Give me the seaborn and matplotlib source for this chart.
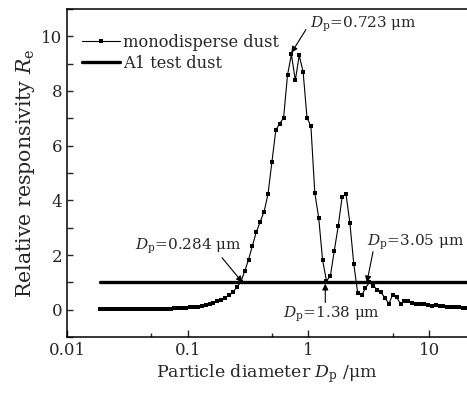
import matplotlib
matplotlib.use("Agg")
import matplotlib.pyplot as plt
import pandas as pd
import seaborn as sns
from matplotlib.ticker import FixedLocator, MultipleLocator, NullFormatter, FixedFormatter

# Particle diameter channels (um) and relative responsivity of the sensor
diameter_um = [
    0.01890, 0.02036, 0.02193, 0.02362, 0.02545, 0.02741, 0.02953, 0.03181, 0.03426, 0.03691,
    0.03976, 0.04283, 0.04613, 0.04969, 0.05353, 0.05766, 0.06212, 0.06691, 0.07208, 0.07764,
    0.08364, 0.09010, 0.09705, 0.1045, 0.1126, 0.1213, 0.1307, 0.1408, 0.1516, 0.1634,
    0.1760, 0.1895, 0.2042, 0.2199, 0.2369, 0.2552, 0.2749, 0.2962, 0.3190, 0.3437,
    0.3702, 0.3988, 0.4295, 0.4627, 0.4984, 0.5369, 0.5784, 0.6230, 0.6711, 0.7229,
    0.7788, 0.8389, 0.9036, 0.9734, 1.049, 1.130, 1.217, 1.311, 1.412, 1.521,
    1.639, 1.765, 1.901, 2.048, 2.206, 2.376, 2.560, 2.758, 2.971, 3.200,
    3.447, 3.713, 3.999, 4.308, 4.641, 4.999, 5.385, 5.801, 6.249, 6.731,
    7.251, 7.811, 8.414, 9.064, 9.764, 10.52, 11.33, 12.20, 13.15, 14.16,
    15.25, 16.43, 17.70, 19.07, 20.54,
]
responsivity = [
    0.02, 0.02, 0.02, 0.02, 0.02, 0.02, 0.02, 0.02, 0.02, 0.02,
    0.02, 0.02, 0.02, 0.03, 0.03, 0.03, 0.03, 0.04, 0.04, 0.05,
    0.05, 0.06, 0.07, 0.08, 0.09, 0.11, 0.13, 0.16, 0.20, 0.25,
    0.30, 0.36, 0.44, 0.53, 0.63, 0.83, 1.00, 1.40, 1.83, 2.34,
    2.84, 3.22, 3.59, 4.23, 5.40, 6.57, 6.81, 7.02, 8.58, 9.34,
    8.39, 9.30, 8.71, 7.02, 6.71, 4.27, 3.36, 1.81, 1.05, 1.24,
    2.16, 3.05, 4.12, 4.23, 3.17, 1.67, 0.62, 0.52, 0.79, 1.00,
    0.88, 0.73, 0.63, 0.43, 0.22, 0.55, 0.45, 0.21, 0.30, 0.33,
    0.25, 0.21, 0.21, 0.20, 0.16, 0.15, 0.16, 0.15, 0.12, 0.11,
    0.10, 0.09, 0.08, 0.07, 0.06,
]
a1_responsivity = 1.0

# Marked diameters: (label value, responsivity at arrow head)
marked_dp = [0.723, 0.284, 3.05, 1.38]
marked_head_y = [9.40, 1.00, 1.00, 0.95]
marked_tail = [(0.955, 10.25), (0.1924, 1.90), (3.43, 2.12), (1.38, 0.26)]
marked_text_pos = [(1.03, 10.43), (0.0366, 2.30), (3.06, 2.45), (0.616, -0.18)]

x_ticks = [0.01, 0.1, 1, 10]
x_tick_labels = ["0.01", "0.1", "1", "10"]
x_minor_ticks = [0.05, 0.5, 5]

sns.set_theme(style="ticks")
plt.rcParams["font.family"] = ["DejaVu Serif"]
plt.rcParams["mathtext.fontset"] = "dejavuserif"

fig = plt.figure(figsize=(4.67, 3.93), dpi=100)
ax = fig.add_axes([67 / 467, 1 - 337 / 393, 400 / 467, 328 / 393])

mono = pd.DataFrame({"d": diameter_um, "r": responsivity})
sns.lineplot(data=mono, x="d", y="r", ax=ax, color="black", lw=0.8,
             marker="s", markersize=2.8, markeredgewidth=0,
             estimator=None, sort=False, label="monodisperse dust")

a1 = pd.DataFrame({"d": [diameter_um[0], diameter_um[-1]],
                   "r": [a1_responsivity, a1_responsivity]})
sns.lineplot(data=a1, x="d", y="r", ax=ax, color="black", lw=2.4,
             estimator=None, sort=False, label="A1 test dust")

ax.set_xscale("log")
ax.set_xlim(0.01, 20.6)
ax.set_ylim(-1, 11)

ax.xaxis.set_major_locator(FixedLocator(x_ticks))
ax.xaxis.set_major_formatter(FixedFormatter(x_tick_labels))
ax.xaxis.set_minor_locator(FixedLocator(x_minor_ticks))
ax.xaxis.set_minor_formatter(NullFormatter())
ax.yaxis.set_major_locator(MultipleLocator(2))
ax.yaxis.set_minor_locator(MultipleLocator(1))

ax.tick_params(axis="both", which="both", direction="in", labelsize=12,
               width=1.0, top=False, right=False)
ax.tick_params(axis="x", which="major", length=5)
ax.tick_params(axis="x", which="minor", length=3)
ax.tick_params(axis="y", which="both", length=4)

for side in ["left", "bottom", "top"]:
    ax.spines[side].set_linewidth(1.1)
    ax.spines[side].set_color("black")
ax.spines["right"].set_visible(False)

ax.set_xlabel(r"Particle diameter $D_{\rm p}$ /μm", fontsize=12.5, labelpad=2)
ax.set_ylabel(r"Relative responsivity $R_{\rm e}$", fontsize=14.8, labelpad=3)

for dp, hy, tail, tpos in zip(marked_dp, marked_head_y, marked_tail, marked_text_pos):
    ax.annotate("", xy=(dp, hy), xytext=tail,
                arrowprops=dict(arrowstyle="-|>", color="black", lw=0.8,
                                mutation_scale=9, shrinkA=0, shrinkB=0))
    ax.text(tpos[0], tpos[1], r"$D_{\rm p}$=" + f"{dp:g} μm",
            ha="left", va="center", fontsize=11)

leg = ax.legend(loc="upper left", bbox_to_anchor=(0.02, 0.945), frameon=False,
                fontsize=11.7, handlelength=2.35, handletextpad=0.2,
                borderaxespad=0, labelspacing=0.25)

fig.savefig("out.png", dpi=100, facecolor="white")
